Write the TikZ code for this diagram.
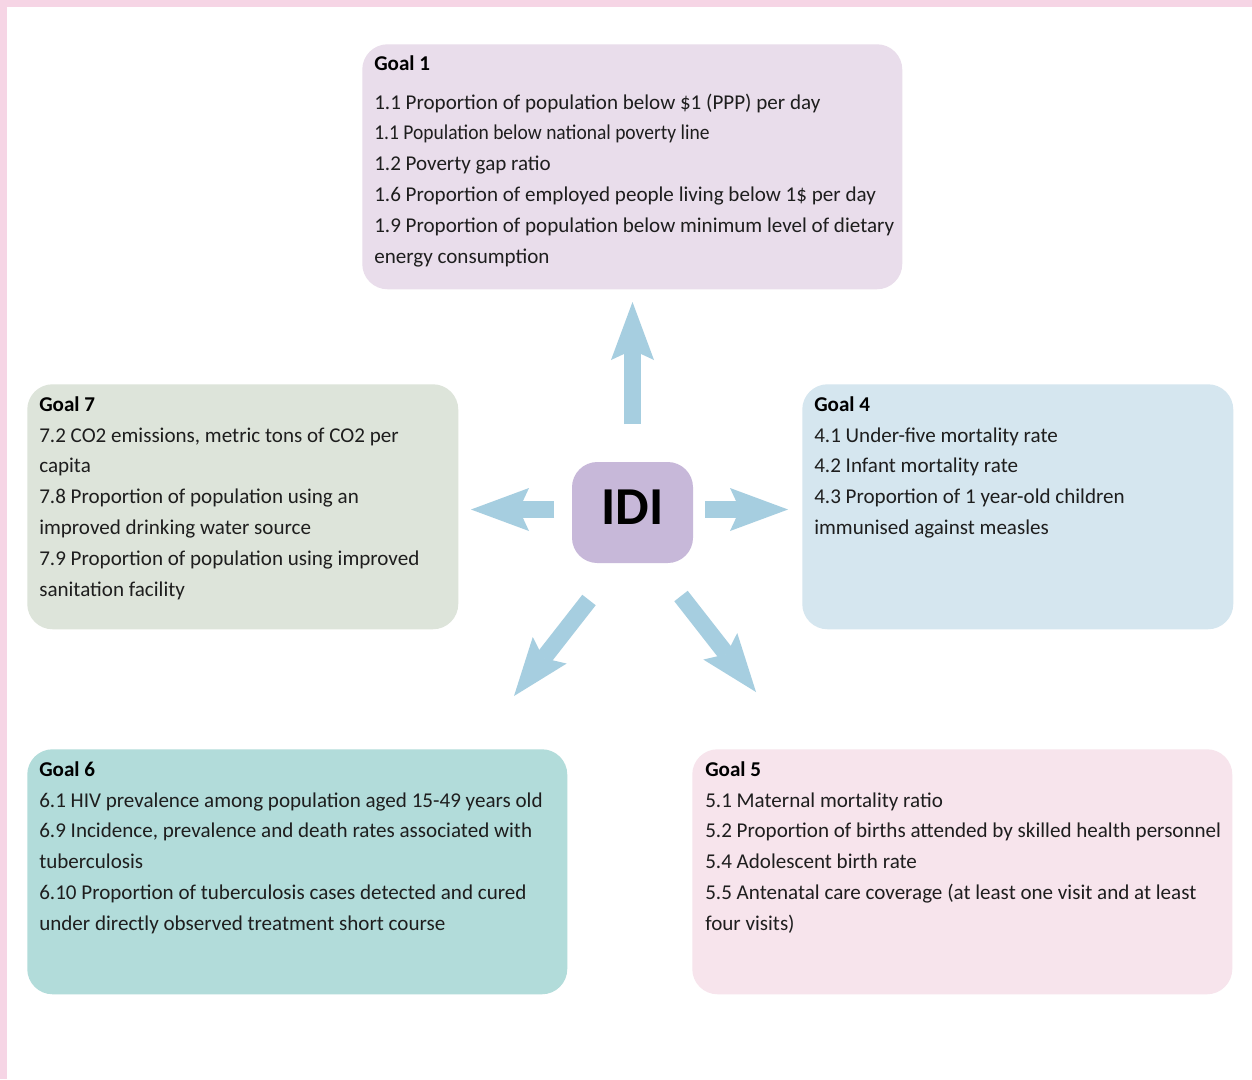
\documentclass[tikz,border=0pt]{standalone}
\usepackage{fontspec}
\setmainfont{Carlito}
\usetikzlibrary{arrows.meta}
\definecolor{bandpink}{HTML}{F6D5E5}
\definecolor{gone}{HTML}{E9DDEB}
\definecolor{gseven}{HTML}{DDE4DA}
\definecolor{gfour}{HTML}{D5E6EF}
\definecolor{gsix}{HTML}{B2DCDA}
\definecolor{gfive}{HTML}{F7E4EC}
\definecolor{idifill}{HTML}{C7B8D9}
\definecolor{arrowblue}{HTML}{A6CEE0}
\definecolor{txt}{HTML}{1E1E1E}
\begin{document}
\begin{tikzpicture}[x=0.75pt,y=-0.75pt,
  goalbox/.style={rectangle, rounded corners=19pt, anchor=north west, inner sep=0pt, minimum height=183.75pt},
  ln/.style={anchor=base west, inner sep=0pt, text=txt, font=\fontsize{15.8pt}{19pt}\selectfont},
  ttl/.style={anchor=base west, inner sep=0pt, text=black, font=\fontsize{15.8pt}{19pt}\selectfont\bfseries},
  fat/.style={draw=arrowblue, line width=12.75pt, line cap=butt,
    -{Stealth[length=43.5pt, width=32.25pt, inset=7.5pt, line width=0pt, fill=arrowblue]}}
]
\useasboundingbox (0,0) rectangle (1252,1079);
\fill[white] (0,0) rectangle (1252,1079);
\fill[bandpink] (0,0) rectangle (1252,7);
\fill[bandpink] (0,0) rectangle (7,1079);

% boxes
\node[goalbox, fill=gone, minimum width=405pt] (g1) at (362,44) {};
\node[goalbox, fill=gseven, minimum width=323.25pt] (g7) at (27,384) {};
\node[goalbox, fill=gfour, minimum width=323.25pt] (g4) at (802,384) {};
\node[goalbox, fill=gsix, minimum width=405pt] (g6) at (27,749) {};
\node[goalbox, fill=gfive, minimum width=405pt] (g5) at (692,749) {};
\node[rectangle, rounded corners=19pt, fill=idifill, minimum width=90.75pt, minimum height=75.75pt,
  inner sep=0pt] (idi) at (632.5,512.5) {};
\node[inner sep=0pt, font=\fontsize{40pt}{44pt}\selectfont\bfseries] (idilabel) at (632.5,507.5) {IDI};

% Goal 1
\node[ttl] (g1t) at (374,70) {Goal 1};
\foreach \t [count=\i] in {{1.1 Proportion of population below \$1 (PPP) per day},
  {\scalebox{0.926}[1]{1.1 Population below national poverty line}},
  {1.2 Poverty gap ratio},
  {1.6 Proportion of employed people living below 1\$ per day},
  {1.9 Proportion of population below minimum level of dietary},
  {energy consumption}}
  \node[ln] (g1l\i) at (374,{109+30.8*(\i-1)}) {\t};

% Goal 7
\node[ttl] (g7t) at (39,411) {Goal 7};
\foreach \t [count=\i] in {{7.2 CO2 emissions, metric tons of CO2 per},
  {capita},
  {7.8 Proportion of population using an},
  {improved drinking water source},
  {7.9 Proportion of population using improved},
  {sanitation facility}}
  \node[ln] (g7l\i) at (39,{442+30.8*(\i-1)}) {\t};

% Goal 4
\node[ttl] (g4t) at (814,411) {Goal 4};
\foreach \t [count=\i] in {{4.1 Under-five mortality rate},
  {4.2 Infant mortality rate},
  {4.3 Proportion of 1 year-old children},
  {immunised against measles}}
  \node[ln] (g4l\i) at (814,{442+30.8*(\i-1)}) {\t};

% Goal 6
\node[ttl] (g6t) at (39,776) {Goal 6};
\foreach \t [count=\i] in {{6.1 HIV prevalence among population aged 15-49 years old},
  {6.9 Incidence, prevalence and death rates associated with},
  {tuberculosis},
  {6.10 Proportion of tuberculosis cases detected and cured},
  {under directly observed treatment short course}}
  \node[ln] (g6l\i) at (39,{807+30.8*(\i-1)}) {\t};

% Goal 5
\node[ttl] (g5t) at (705,776) {Goal 5};
\foreach \t [count=\i] in {{5.1 Maternal mortality ratio},
  {5.2 Proportion of births attended by skilled health personnel},
  {5.4 Adolescent birth rate},
  {5.5 Antenatal care coverage (at least one visit and at least},
  {four visits)}}
  \node[ln] (g5l\i) at (705,{807+30.8*(\i-1)}) {\t};

% arrows
\coordinate (aus) at (632.5,424);  \coordinate (aue) at (632.5,302);
\coordinate (ars) at (705,509.5);  \coordinate (are) at (788,509.5);
\coordinate (als) at (554,509.5);  \coordinate (ale) at (471,509.5);
\coordinate (adls) at (589,600);   \coordinate (adle) at (514,696);
\coordinate (adrs) at (681,596);   \coordinate (adre) at (756,692);
\draw[fat] (aus) -- (aue);
\draw[fat] (ars) -- (are);
\draw[fat] (als) -- (ale);
\draw[fat] (adls) -- (adle);
\draw[fat] (adrs) -- (adre);
\end{tikzpicture}
\end{document}
